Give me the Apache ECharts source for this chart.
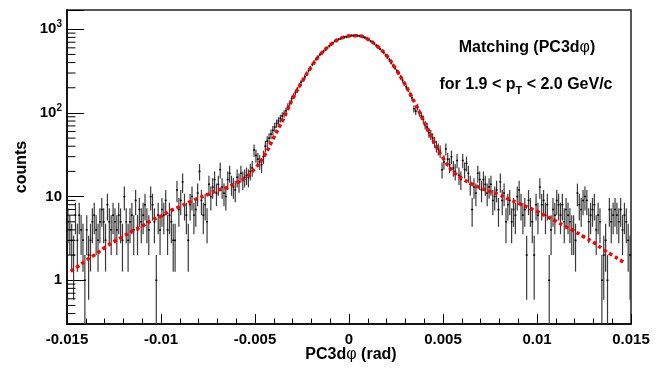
<!DOCTYPE html>
<html><head><meta charset="utf-8">
<script src="https://cdn.jsdelivr.net/npm/echarts@6/dist/echarts.min.js"></script>
<style>html,body{margin:0;padding:0;background:#fff}#c{width:670px;height:369px}</style>
</head><body><div id="c"></div>
<script>
// ---- data ----
const xMin = -0.015, xMax = 0.015, binWidth = 0.0001;
const yMin = 0.3, yMax = 1700;
const counts = [
  5,4,3,2,6,3,6,4,3,1, 4,2,3,5,6,4,3,5,7,5, 3,8,5,4,6,5,4,6,5,3, 10,5,3,5,6,4,9,4,7,5, 6,8,5,4,10,8,5,1,6,4,
  7,6,9,4,6,5,3,3,12,7, 9,15,8,6,3,8,10,6,7,11, 20,9,6,8,5,14,10,13,16,11, 14,21,13,11,10,16,19,14,13,12, 17,15,19,16,17,18,17,20,22,36,
  31,28,26,24,30,40,46,50,56,62,
  68,75,80,86,92,98,106,120,130,148,
  160,176,192,212,232,250,270,298,322,348,
  380,405,440,470,498,522,550,572,600,630,
  665,690,720,738,760,775,788,805,812,832,
  836,842,838,848,840,832,825,806,795,768,
  752,720,705,675,640,618,580,552,525,490,
  462,432,398,370,345,318,300,270,245,226,
  205,190,168,152,112,105,118,100,92,84,
  72,68,58,55,50,45,40,37,35,21,
  26,37,28,24,30,22,20,27,18,16, 27,21,25,19,14,7,13,11,19,16, 12,16,14,11,13,14,9,10,12,7, 15,9,11,5,8,9,5,7,6,10, 12,8,6,7,2,9,7,5,2,8,
  6,13,8,9,6,8,1,4,7,6, 9,8,6,8,5,7,6,5,4,4, 3,11,8,7,9,10,9,5,6,7, 8,4,6,5,1,2,3,1,7,5, 6,7,6,5,7,4,6,5,3,2
];
const fitX = [-0.0148,-0.0145,-0.014,-0.0135,-0.013,-0.0125,-0.012,-0.0115,-0.011,-0.0105,
  -0.01,-0.0095,-0.009,-0.0085,-0.008,-0.0075,-0.007,-0.0065,-0.006,-0.0055,
  -0.005,-0.0045,-0.004,-0.0035,-0.003,-0.0025,-0.002,-0.0015,-0.001,-0.0005,
  0,0.0005,0.001,0.0015,0.002,0.0025,0.003,0.0035,0.004,0.0045,
  0.005,0.0055,0.006,0.0065,0.007,0.0075,0.008,0.0085,0.009,0.0095,
  0.01,0.0105,0.011,0.0115,0.012,0.0125,0.013,0.0135,0.014,0.0145,0.0147];
const fitY = [1.28,1.42,1.72,2.03,2.45,2.9,3.35,3.9,4.45,5.2,
  5.85,6.75,7.6,8.6,9.6,10.6,11.9,12.8,14.5,16.8,
  21.7,30.8,51,84,147,235,357,506,650,768,
  832,838,762,630,485,332,215,132,78,46,
  29,20.3,16.5,14.3,12.7,11.5,10.5,9.3,8.35,7.45,
  6.65,5.8,5.1,4.4,3.85,3.3,2.85,2.35,2.0,1.7,1.58];
const yMajorLabels = {0:'1', 1:'10', 2:'10{sup|2}', 3:'10{sup|3}'};
const yMinorTicks = [0.4,0.5,0.6,0.7,0.8,0.9, 2,3,4,5,6,7,8,9, 20,30,40,50,60,70,80,90, 200,300,400,500,600,700,800,900];

// ---- chart ----
const F = '"Liberation Sans", Arial, Helvetica, sans-serif';
const binData = counts.map((n, i) => [xMin + (i + 0.5) * binWidth, n]);
const chart = echarts.init(document.getElementById('c'));
chart.setOption({
  animation: false,
  grid: {left: 67, top: 10, width: 564, height: 314, show: true, borderColor: '#222', borderWidth: 1.5},
  xAxis: {
    type: 'value', min: xMin, max: xMax, interval: 0.005,
    axisLine: {onZero: false, lineStyle: {color: '#000', width: 1.5}},
    axisTick: {inside: true, length: 10, lineStyle: {color: '#000', width: 1}},
    minorTick: {show: true, splitNumber: 5, length: 5.5, lineStyle: {color: '#000', width: 1}},
    splitLine: {show: false}, minorSplitLine: {show: false},
    axisLabel: {fontFamily: F, fontWeight: 'bold', fontSize: 15, color: '#000', margin: 8,
      formatter: v => String(+(+v).toFixed(3))}
  },
  yAxis: {
    type: 'log', logBase: 10, min: yMin, max: yMax,
    axisLine: {show: true, onZero: false, lineStyle: {color: '#000', width: 1.5}},
    axisTick: {show: true, inside: true, length: 17, lineStyle: {color: '#000', width: 1}},
    splitLine: {show: false},
    axisLabel: {fontFamily: F, fontWeight: 'bold', fontSize: 15, color: '#000', margin: 5, lineHeight: 20,
      formatter: v => {
        const l = Math.log10(v), k = Math.round(l);
        if (Math.abs(l - k) > 0.01) return '';
        return yMajorLabels[k] || '';
      },
      rich: {sup: {fontFamily: F, fontWeight: 'bold', fontSize: 10, color: '#000', lineHeight: 10, verticalAlign: 'top'}}
    }
  },
  series: [
    {
      type: 'custom', z: 2, clip: true,
      data: binData, encode: {x: 0, y: 1},
      renderItem: (params, api) => {
        const x = api.value(0), n = api.value(1);
        const e = Math.sqrt(n);
        const lo = Math.max(n - e, yMin), hi = n + e;
        const c = api.coord([x, n]);
        const l = api.coord([x - binWidth / 2, n]);
        const r = api.coord([x + binWidth / 2, n]);
        const a = api.coord([x, lo]);
        const b = api.coord([x, hi]);
        return {type: 'group', children: [
          {type: 'line', shape: {x1: a[0], y1: a[1], x2: b[0], y2: b[1]}, style: {stroke: '#3a3a3a', lineWidth: 1.2}},
          {type: 'line', shape: {x1: l[0], y1: c[1], x2: r[0], y2: c[1]}, style: {stroke: '#000', lineWidth: 1.5}}
        ]};
      }
    },
    {
      type: 'custom', z: 3, clip: false,
      data: yMinorTicks.map(v => [xMin, v]), encode: {x: 0, y: 1},
      renderItem: (params, api) => {
        const p = api.coord([api.value(0), api.value(1)]);
        return {type: 'line', shape: {x1: p[0], y1: p[1], x2: p[0] + 8.5, y2: p[1]}, style: {stroke: '#000', lineWidth: 1}};
      }
    },
    {
      type: 'line', z: 4, showSymbol: false, smooth: 0.4,
      data: fitX.map((x, i) => [x, fitY[i]]),
      lineStyle: {color: '#ff0000', width: 3.5, type: [3.5, 3], cap: 'butt'}
    }
  ],
  graphic: [
    {type: 'text', x: 527, y: 48, z: 10, style: {
      text: 'Matching (PC3d{p|φ})', fontFamily: F, fontWeight: 'bold', fontSize: 16, fill: '#000',
      align: 'center', verticalAlign: 'middle', textAlign: 'center', textVerticalAlign: 'middle',
      rich: {p: {fontFamily: F, fontWeight: 'normal', fontSize: 16, fill: '#000'}}}},
    {type: 'text', x: 526, y: 85, z: 10, style: {
      text: 'for 1.9 < p{sub|T} < 2.0 GeV/c', fontFamily: F, fontWeight: 'bold', fontSize: 16, fill: '#000', lineHeight: 22,
      align: 'center', verticalAlign: 'middle', textAlign: 'center', textVerticalAlign: 'middle',
      rich: {sub: {fontFamily: F, fontWeight: 'bold', fontSize: 11, fill: '#000', lineHeight: 12, verticalAlign: 'bottom'}}}},
    {type: 'text', x: 351, y: 355, z: 10, style: {
      text: 'PC3d{p|φ} (rad)', fontFamily: F, fontWeight: 'bold', fontSize: 16, fill: '#000',
      align: 'center', verticalAlign: 'middle', textAlign: 'center', textVerticalAlign: 'middle',
      rich: {p: {fontFamily: F, fontWeight: 'normal', fontSize: 16, fill: '#000'}}}},
    {type: 'text', x: 22, y: 167, rotation: Math.PI / 2, z: 10, style: {
      text: 'counts', fontFamily: F, fontWeight: 'bold', fontSize: 16, fill: '#000',
      align: 'center', verticalAlign: 'middle', textAlign: 'center', textVerticalAlign: 'middle'}}
  ]
});
</script>
</body></html>
